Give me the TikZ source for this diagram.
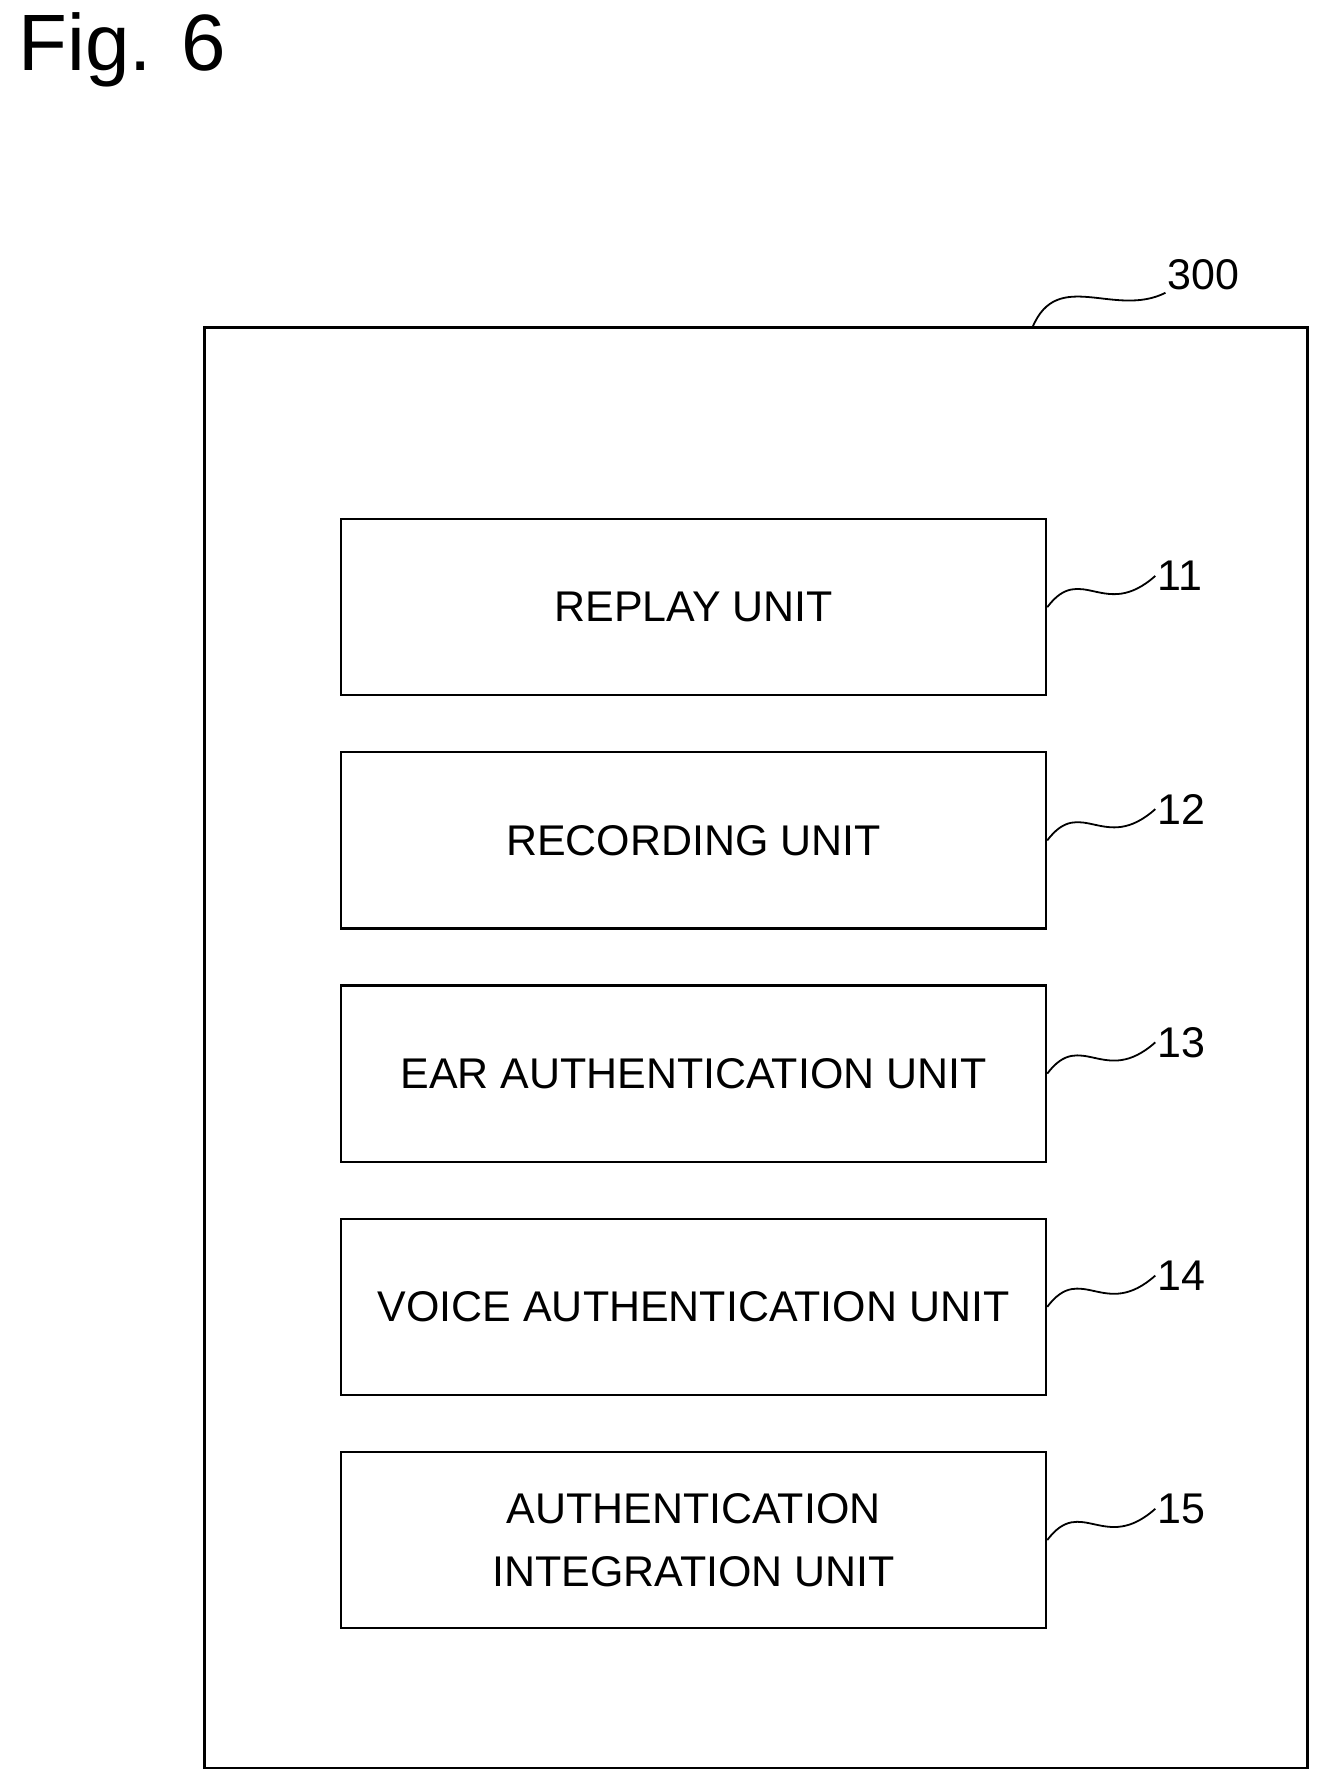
\documentclass[tikz,border=0pt]{standalone}
\usepackage{fontspec}
\setmainfont{Liberation Sans}
\usetikzlibrary{positioning}
\begin{document}
\begin{tikzpicture}[
    font=\fontsize{21.5}{26}\selectfont,
    unit/.style={
		rectangle,
		draw=black,
		line width=1.2pt,
		minimum width=12.4cm,
		minimum height=3.1cm,
		align=center,
		inner sep=0pt
	},
	ref/.style={
		inner sep=1pt,
		anchor=south west
	},
	squig/.style={
		line width=0.9pt
	}
  ]
  \useasboundingbox (0,0) rectangle (23.4,-31.38);
  % figure title and frame
  \node [anchor=north west, font=\fontsize{40}{44}\selectfont] (fig) at (0.2,-0.1) {Fig. 6};
  \draw [line width=1.2pt] (3.6,-5.76) rectangle (23,-31.1);
  \coordinate (frametop) at (18.16,-5.76);
  \node [ref] (n300) at (20.5,-5.15) {300};
  \draw [squig] (frametop) .. controls (18.6,-4.7) and (19.6,-5.6) .. (n300.south west);

  % the units
  \node [unit] (replay) at (12.2,-10.68) {REPLAY UNIT};
  \node [unit, below=0.96cm of replay] (recording) {RECORDING UNIT};
  \node [unit, below=0.96cm of recording] (ear) {EAR AUTHENTICATION UNIT};
  \node [unit, below=0.96cm of ear] (voice) {VOICE AUTHENTICATION UNIT};
  \node [unit, below=0.96cm of voice] (integration) {AUTHENTICATION\\[0.2cm]INTEGRATION UNIT};

  % reference numerals
  \foreach \b/\n in {replay/11, recording/12, ear/13, voice/14, integration/15} {
    \node [ref, right=1.9cm of \b.east, yshift=0.55cm, anchor=west] (n\n) {\n};
    \draw [squig] (\b.east) .. controls +(0.6,0.8) and +(-0.9,-0.8) .. (n\n.west);
  }
\end{tikzpicture}
\end{document}
